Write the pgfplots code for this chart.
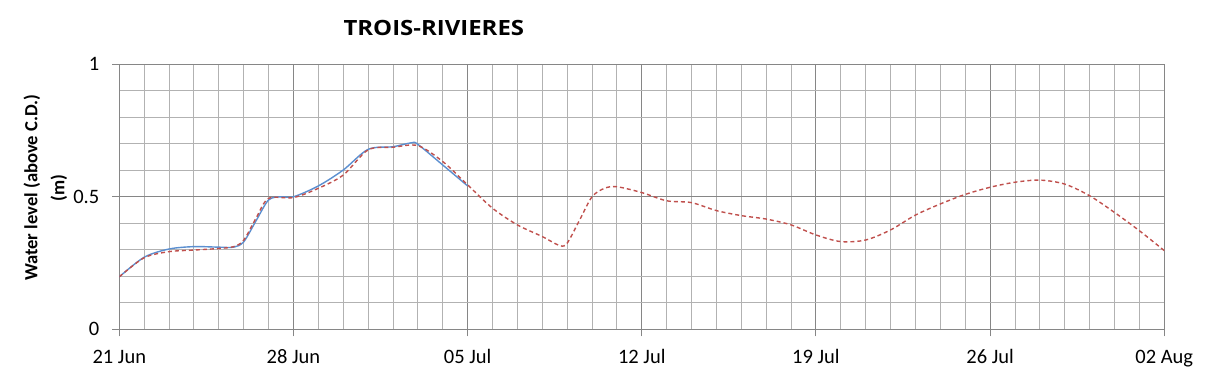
\documentclass[border=0pt]{standalone}
\usepackage{pgfplots}
\pgfplotsset{compat=1.18}
\usepackage{fontspec}
\setmainfont{Carlito}
\newfontfamily\titlefont{Open Sans}
\definecolor{bluel}{RGB}{91,143,208}
\definecolor{redl}{RGB}{192,80,77}
\definecolor{majg}{RGB}{134,134,134}
\definecolor{ming}{RGB}{178,178,178}
\begin{document}
\begin{tikzpicture}
\useasboundingbox (-119.3pt,-48.7pt) rectangle (1089.7pt,329.3pt);
\begin{axis}[
  scale only axis,
  width=1045pt, height=265pt,
  xmin=0, xmax=42, ymin=0, ymax=1,
  xtick={0,7,14,21,28,35,42},
  xticklabels={21 Jun,28 Jun,05 Jul,12 Jul,19 Jul,26 Jul,02 Aug},
  ytick={0,0.5,1},
  yticklabels={0,0.5,1},
  minor x tick num=6,
  minor y tick num=4,
  grid=both,
  major grid style={draw=majg, line width=0.9pt},
  minor grid style={draw=ming, line width=0.9pt},
  axis line style={draw=majg, line width=0.9pt},
  tick align=outside,
  major tick length=7pt,
  minor tick length=0pt,
  tick style={draw=majg, line width=0.9pt},
  xtick pos=bottom, ytick pos=left,
  tick label style={font=\fontsize{20.5}{24}\selectfont, text=black},
  xticklabel style={anchor=base, yshift=-27pt},
  yticklabel style={anchor=east, xshift=-9.5pt},
  title={\scalebox{1.14}[1]{\titlefont\bfseries TROIS-RIVIERES}},
  title style={font=\fontsize{21}{25}\selectfont, at={(axis description cs:0.301,1)}, anchor=center, yshift=30pt},
  ylabel={Water level (above C.D.)\\(m)},
  ylabel style={font=\fontsize{18.6}{27}\selectfont\bfseries, align=center, at={(axis description cs:-0.0708,0.534)}, anchor=center},
]
\addplot[color=bluel, line width=1.4pt, smooth, tension=0.5] coordinates {
(0,0.198)(1,0.272)(2,0.303)(3,0.312)(4,0.31)(4.6,0.31)(5,0.33)(5.5,0.41)(6,0.488)(6.5,0.5)(7,0.5)(8,0.541)(9,0.601)(10,0.679)(11,0.689)(11.75,0.704)(12,0.698)(13,0.62)(14,0.541)
};
\addplot[color=redl, line width=1.4pt, dash pattern=on 4pt off 3pt, smooth, tension=0.5] coordinates {
(0,0.198)(1,0.27)(2,0.293)(3,0.299)(4,0.305)(4.6,0.312)(5,0.336)(5.5,0.42)(6,0.494)(7,0.497)(8,0.532)(9,0.582)(10,0.677)(11,0.687)(12,0.693)(13,0.633)(14,0.545)(15,0.457)(16,0.394)(17,0.35)(17.7,0.316)(18,0.325)(18.5,0.412)(19,0.5)(19.5,0.532)(20,0.538)(21,0.516)(22,0.485)(23,0.478)(24,0.448)(25,0.429)(26,0.416)(27,0.394)(28,0.356)(29,0.331)(30,0.337)(31,0.375)(32,0.431)(33,0.473)(34,0.509)(35,0.536)(36,0.555)(37,0.563)(38,0.548)(39,0.504)(40,0.441)(41,0.372)(42,0.297)
};
\end{axis}
\end{tikzpicture}
\end{document}
